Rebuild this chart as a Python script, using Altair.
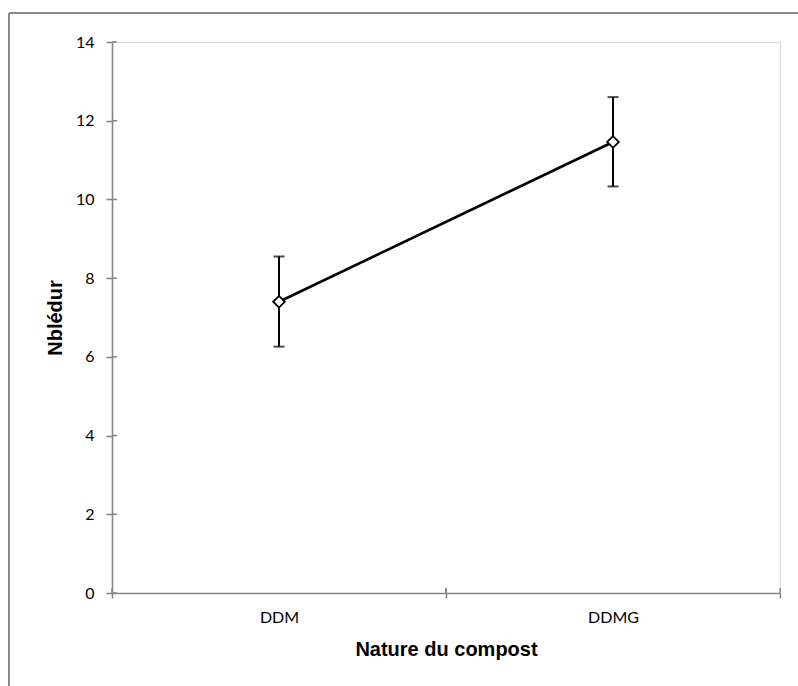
import altair as alt
import pandas as pd

categories = ["DDM", "DDMG"]
means = [7.40, 11.46]
upper = [8.55, 12.60]
lower = [6.26, 10.33]
y_ticks = [0, 2, 4, 6, 8, 10, 12, 14]

df = pd.DataFrame({"cat": categories, "mean": means, "hi": upper, "lo": lower})
ticks_df = pd.DataFrame({"v": y_ticks})

W, H = 668, 551
AX = "#868686"

x_scale = alt.Scale(type="band", paddingInner=0, paddingOuter=0, domain=categories)
y_scale = alt.Scale(domain=[0, 14], nice=False)

x_axis = alt.Axis(
    title="Nature du compost", labelAngle=0, tickBand="extent",
    domainColor=AX, domainWidth=1.6, tickColor=AX, tickWidth=1.6, tickSize=5,
    labelFont="Lato", labelFontSize=16, labelColor="black",
    labelBaseline="middle", labelPadding=19,
    titleFont="Liberation Sans", titleFontSize=20, titleFontWeight="bold",
    titleColor="black", titleX=W / 2, titleY=56, titleBaseline="middle",
    titleAlign="center", grid=False,
)
y_axis = alt.Axis(
    title="Nblédur", values=y_ticks,
    domainColor=AX, domainWidth=1.6, tickColor=AX, tickWidth=1.6, tickSize=6,
    labelFont="Lato", labelFontSize=16, labelColor="black", labelPadding=12,
    titleFont="Liberation Sans", titleFontSize=20, titleFontWeight="bold",
    titleColor="black", titleX=-57, titleY=H / 2, titleAngle=-90,
    titleBaseline="middle", titleAlign="center", grid=False,
)

base = alt.Chart(df)
X = alt.X("cat:N", scale=x_scale, axis=x_axis, sort=categories)


def Y(field):
    return alt.Y(field, scale=y_scale, axis=y_axis)


line = base.mark_line(color="black", strokeWidth=2.6).encode(x=X, y=Y("mean:Q"))
bars = base.mark_rule(color="black", strokeWidth=2).encode(x=X, y=Y("lo:Q"), y2="hi:Q")
cap_hi = base.mark_tick(color="black", size=11, thickness=2).encode(x=X, y=Y("hi:Q"))
cap_lo = base.mark_tick(color="black", size=11, thickness=2).encode(x=X, y=Y("lo:Q"))
points = base.mark_point(
    shape="diamond", filled=True, fill="white", stroke="black",
    strokeWidth=1.8, size=135, opacity=1
).encode(x=X, y=Y("mean:Q"))

# inward halves of the cross-style ticks
y_in = alt.Chart(ticks_df).mark_rule(color=AX, strokeWidth=1.6).encode(
    y=Y("v:Q"), x=alt.value(0), x2=alt.value(5),
)
x_in0 = base.mark_rule(color=AX, strokeWidth=1.6).encode(
    x=alt.X("cat:N", scale=x_scale, axis=x_axis, sort=categories, bandPosition=0),
    y=alt.value(H - 5), y2=alt.value(H),
)
x_in1 = base.mark_rule(color=AX, strokeWidth=1.6).encode(
    x=alt.X("cat:N", scale=x_scale, axis=x_axis, sort=categories, bandPosition=1),
    y=alt.value(H - 5), y2=alt.value(H),
)

# outer chart-area border (left and top edges visible)
border_left = base.mark_rule(color="#8a8a8a", strokeWidth=2).encode(
    x=alt.value(9 - 112), y=alt.value(13 - 42), y2=alt.value(700 - 42)
)
border_top = base.mark_rule(color="#8a8a8a", strokeWidth=2).encode(
    x=alt.value(9 - 112), x2=alt.value(810 - 112), y=alt.value(13 - 42)
)

chart = alt.layer(
    line, bars, cap_hi, cap_lo, y_in, x_in0, x_in1, points, border_left, border_top
).properties(
    width=W, height=H,
    autosize=alt.AutoSizeParams(type="none"),
    padding={"left": 112, "top": 42, "right": 18, "bottom": 93},
).configure_view(
    stroke="#cfcfcf", strokeWidth=1.8
).configure(background="white")

chart.save("out.html", embed_options={"renderer": "svg", "actions": False})
